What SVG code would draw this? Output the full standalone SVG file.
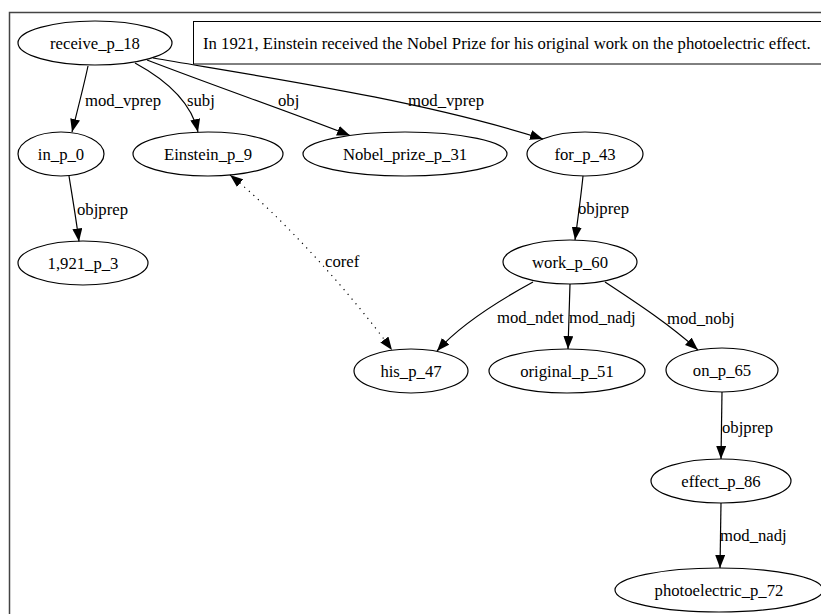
<svg xmlns="http://www.w3.org/2000/svg" width="821" height="614" viewBox="0 0 821 614" font-family="'Liberation Serif', 'DejaVu Serif', serif" font-size="16.7">
<style>
text{font-family:'Liberation Serif','DejaVu Serif',serif;font-size:16.7px;fill:#000}
.n ellipse{fill:none;stroke:#000;stroke-width:1.2}
.n text{text-anchor:middle}
.e path{fill:none;stroke:#000;stroke-width:1.2}
.e path.dot{stroke-dasharray:1.2 5}
</style>
<defs>
<marker id="ah" viewBox="0 0 13 10" refX="13" refY="5" markerWidth="13" markerHeight="10" markerUnits="userSpaceOnUse" orient="auto-start-reverse">
<path d="M0,0 L13,5 L0,10 z" fill="#000"/>
</marker>
</defs>
<rect x="0" y="0" width="821" height="614" fill="#fff"/>
<rect x="9.5" y="12.5" width="830" height="620" fill="none" stroke="#444" stroke-width="1.5"/>
<g id="caption">
<rect x="193.5" y="21.5" width="640" height="42.5" fill="none" stroke="#000" stroke-width="1"/>
<text x="203" y="48.5">In 1921, Einstein received the Nobel Prize for his original work on the photoelectric effect.</text>
</g>
<g id="edges" class="e">
<path d="M88,66 C84,85 78,108 72,132" marker-end="url(#ah)"/>
<path d="M135,63 C170,82 192,105 198,132" marker-end="url(#ah)"/>
<path d="M147,60 C220,88 290,112 350,135.5" marker-end="url(#ah)"/>
<path d="M153,58 C270,78 420,100 543,139" marker-end="url(#ah)"/>
<path d="M69,176 C72,195 76,218 79,241.5" marker-end="url(#ah)"/>
<path d="M583,176 C581,196 578,218 575,240" marker-end="url(#ah)"/>
<path class="dot" d="M230,175 C280,215 350,292 392,350" marker-start="url(#ah)" marker-end="url(#ah)"/>
<path d="M533,282 C500,300 460,325 437,351" marker-end="url(#ah)"/>
<path d="M570,284 L568,349" marker-end="url(#ah)"/>
<path d="M605,282 C640,305 670,325 698,350" marker-end="url(#ah)"/>
<path d="M722,392 L721,459" marker-end="url(#ah)"/>
<path d="M721,503 L720,568" marker-end="url(#ah)"/>
<text x="85" y="106">mod_vprep</text>
<text x="187" y="106">subj</text>
<text x="278" y="106">obj</text>
<text x="408" y="106">mod_vprep</text>
<text x="77" y="215">objprep</text>
<text x="578" y="214">objprep</text>
<text x="325" y="267">coref</text>
<text x="497" y="323">mod_ndet</text>
<text x="569" y="323">mod_nadj</text>
<text x="667" y="324">mod_nobj</text>
<text x="722" y="433">objprep</text>
<text x="720" y="541">mod_nadj</text>
</g>
<g id="receive_p_18" class="n"><ellipse cx="95" cy="43" rx="77" ry="22"/><text x="95" y="48.5">receive_p_18</text></g>
<g id="in_p_0" class="n"><ellipse cx="61" cy="154" rx="43" ry="22"/><text x="61" y="159.5">in_p_0</text></g>
<g id="Einstein_p_9" class="n"><ellipse cx="208" cy="154" rx="75" ry="22"/><text x="208" y="159.5">Einstein_p_9</text></g>
<g id="Nobel_prize_p_31" class="n"><ellipse cx="405" cy="154" rx="102" ry="22"/><text x="405" y="159.5">Nobel_prize_p_31</text></g>
<g id="for_p_43" class="n"><ellipse cx="585" cy="154" rx="58" ry="22"/><text x="585" y="159.5">for_p_43</text></g>
<g id="n1921_p_3" class="n"><ellipse cx="83" cy="263" rx="65" ry="22"/><text x="83" y="268.5">1,921_p_3</text></g>
<g id="work_p_60" class="n"><ellipse cx="570" cy="262" rx="67" ry="22"/><text x="570" y="267.5">work_p_60</text></g>
<g id="his_p_47" class="n"><ellipse cx="411" cy="371" rx="57" ry="22"/><text x="411" y="376.5">his_p_47</text></g>
<g id="original_p_51" class="n"><ellipse cx="567" cy="371" rx="78" ry="22"/><text x="567" y="376.5">original_p_51</text></g>
<g id="on_p_65" class="n"><ellipse cx="722" cy="370" rx="56" ry="22"/><text x="722" y="375.5">on_p_65</text></g>
<g id="effect_p_86" class="n"><ellipse cx="721" cy="481" rx="70" ry="22"/><text x="721" y="486.5">effect_p_86</text></g>
<g id="photoelectric_p_72" class="n"><ellipse cx="719" cy="590" rx="104" ry="22"/><text x="719" y="595.5">photoelectric_p_72</text></g>
</svg>
